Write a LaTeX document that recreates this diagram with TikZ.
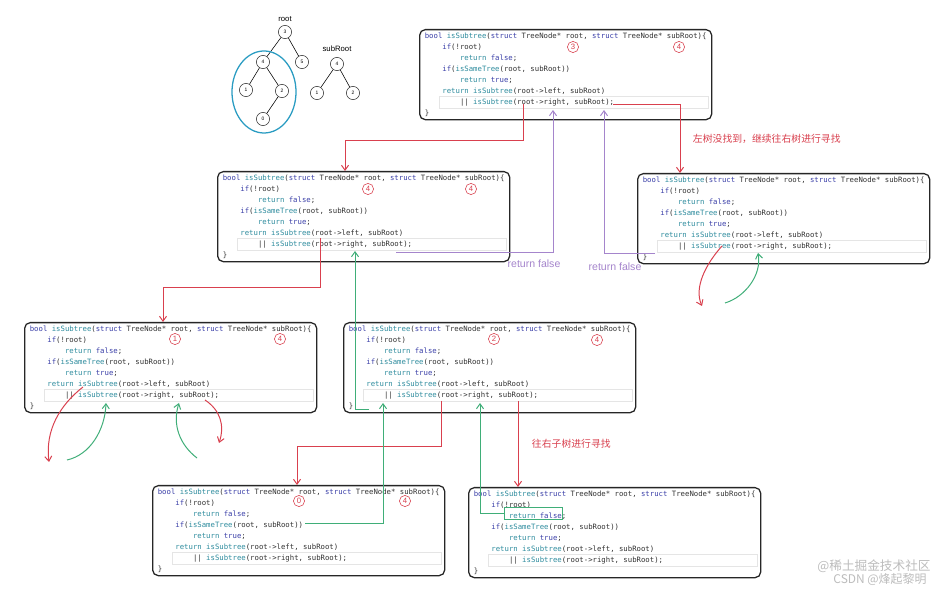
\documentclass[tikz,border=0pt]{standalone}
\usepackage{fontspec}
\setmainfont{Liberation Sans}
\newfontfamily\codefont{DejaVu Sans Mono}
\newfontfamily\cjkfont{Noto Sans CJK SC}
\usetikzlibrary{arrows.meta,calc,shapes.geometric}
\definecolor{callred}{HTML}{D9404E}
\definecolor{backpurple}{HTML}{A585CC}
\definecolor{truegreen}{HTML}{3FAE78}
\definecolor{treeteal}{HTML}{2A9CC2}
\definecolor{kwblue}{HTML}{3A3FA8}
\definecolor{rtteal}{HTML}{2E8C9E}
\definecolor{codegray}{HTML}{333333}
\definecolor{markgray}{HTML}{BDBDBD}

\newcommand{\kw}[1]{\textcolor{kwblue}{#1}}
\newcommand{\rt}[1]{\textcolor{rtteal}{#1}}
\newcommand{\subtreecode}{%
\kw{bool} \rt{isSubtree}(\kw{struct} TreeNode* root, \kw{struct} TreeNode* subRoot)\{\\
~~~~\kw{if}(!root)\\
~~~~~~~~\rt{return} \kw{false};\\
~~~~\kw{if}(\rt{isSameTree}(root, subRoot))\\
~~~~~~~~\rt{return} \kw{true};\\
~~~~\rt{return} \rt{isSubtree}(root->left, subRoot)\\
~~~~~~~~|| \rt{isSubtree}(root->right, subRoot);\\
\}}

\begin{document}
\begin{tikzpicture}[
		x=0.025cm, y=-0.025cm,
		>={Straight Barb[length=3.5pt,width=5pt]},
		codebox/.style={draw=black!85, fill=white, rounded corners=4pt,
				line width=0.9pt, minimum width=7.3cm, minimum height=2.25cm,
				anchor=north west, align=left, inner sep=2pt, text=codegray,
				font=\codefont\fontsize{5.2}{7.8}\selectfont},
		numcirc/.style={circle, draw=callred, text=callred, inner sep=0pt,
				minimum size=0.28cm, line width=0.4pt, font=\fontsize{5.5}{5.5}\selectfont},
		treenode/.style={circle, draw=black!80, inner sep=0pt, minimum size=0.33cm,
				line width=0.4pt, font=\fontsize{3.5}{4}\selectfont},
		callline/.style={->, draw=callred, line width=0.7pt},
		backline/.style={->, draw=backpurple, line width=0.7pt},
		trueline/.style={->, draw=truegreen, line width=0.7pt},
		curline/.style={draw=black!10, line width=0.4pt},
		note/.style={anchor=west, text=callred, font=\cjkfont\fontsize{7}{8}\selectfont},
		backnote/.style={text=backpurple, font=\fontsize{7.5}{8}\selectfont},
	]
	\useasboundingbox (0,0) rectangle (948,589);
	\fill[white] (0,0) rectangle (948,589);

	% the two trees
	\node[font=\fontsize{5.5}{6}\selectfont] (rootlbl) at (285,19) {root};
	\node[treenode] (t3) at (285,32) {3};
	\node[treenode] (t4) at (263,62) {4};
	\node[treenode] (t5) at (302,62) {5};
	\node[treenode] (t1) at (246,90) {1};
	\node[treenode] (t2) at (282,91) {2};
	\node[treenode] (t0) at (263,119) {0};
	\draw[line width=0.4pt] (t3) -- (t4) (t3) -- (t5) (t4) -- (t1) (t4) -- (t2) (t2) -- (t0);
	\node[ellipse, draw=treeteal, line width=0.9pt, minimum width=1.6cm,
		minimum height=2.05cm] (subcirc) at (264,92) {};

	\node[font=\fontsize{5.5}{6}\selectfont] (subrootlbl) at (337,49) {subRoot};
	\node[treenode] (s4) at (337,64) {4};
	\node[treenode] (s1) at (317,93) {1};
	\node[treenode] (s2) at (353,93) {2};
	\draw[line width=0.4pt] (s4) -- (s1) (s4) -- (s2);

	% one box per call
	\node[codebox] (topb) at (419,29) {\subtreecode};
	\node[codebox] (midl) at (217,171) {\subtreecode};
	\node[codebox] (rightb) at (637,173) {\subtreecode};
	\node[codebox] (leftb) at (24,322) {\subtreecode};
	\node[codebox] (cent) at (343,322) {\subtreecode};
	\node[codebox] (botl) at (152,485) {\subtreecode};
	\node[codebox] (botr) at (468,487) {\subtreecode};

	\foreach \b in {topb,midl,rightb,leftb,cent,botl,botr}
	\draw[curline] ($(\b.south west)+(20,-12)$) rectangle ($(\b.south east)+(-4,-24)$);

	% values of root and subRoot
	\node[numcirc] (topnr) at (573,47) {3};
	\node[numcirc] (topns) at (679,47) {4};
	\node[numcirc] (midnr) at (368,189) {4};
	\node[numcirc] (midns) at (471,189) {4};
	\node[numcirc] (leftnr) at (175,339) {1};
	\node[numcirc] (leftns) at (280,339) {4};
	\node[numcirc] (centnr) at (494,339) {2};
	\node[numcirc] (centns) at (597,340) {4};
	\node[numcirc] (botnr) at (299,501) {0};
	\node[numcirc] (botns) at (405,501) {4};

	% calls
	\coordinate (topleft) at (523,104);
	\coordinate (topleftbend) at (345,140);
	\draw[callline] (topleft) |- (topleftbend) -- (topleftbend |- midl.north);

	\coordinate (topright) at (613,104);
	\coordinate (toprightbend) at (680,104);
	\draw[callline] (topright) -- (toprightbend) -- (toprightbend |- rightb.north);
	\node[note] (rightnote) at (688,139) {左树没找到，继续往右树进行寻找};

	\coordinate (midleft) at (320,238);
	\coordinate (midleftbend) at (163,287);
	\draw[callline] (midleft) |- (midleftbend) -- (midleftbend |- leftb.north);

	\coordinate (centleft) at (441,401);
	\coordinate (centleftbend) at (297,446);
	\draw[callline] (centleft) |- (centleftbend) -- (centleftbend |- botl.north);

	\coordinate (centright) at (518,401);
	\draw[callline] (centright) -- (centright |- botr.north);
	\node[note] (centnote) at (527,444) {往右子树进行寻找};

	% returns
	\coordinate (midret) at (396,252);
	\coordinate (topretl) at (553,110);
	\draw[backline] (midret) -| (topretl);
	\node[backnote] (midretnote) at (534,264) {return false};

	\coordinate (rightret) at (655,253);
	\coordinate (topretr) at (604,110);
	\draw[backline] (rightret) -| (topretr);
	\node[backnote] (rightretnote) at (615,267) {return false};

	\coordinate (sametrue) at (305,523);
	\coordinate (centin) at (383,403);
	\draw[trueline] (sametrue) -| (centin);

	\coordinate (centret) at (369,409);
	\coordinate (midin) at (355,251);
	\draw[trueline] (centret) -| (midin);

	\node[draw=truegreen, line width=0.7pt, inner sep=0pt, minimum width=1.45cm,
		minimum height=0.3cm] (hitfalse) at (533,513) {};
	\coordinate (botrin) at (480,403);
	\draw[trueline] (hitfalse.west) -| (botrin);

	% hand drawn arrows
	\coordinate (rdown) at (722,246);
	\coordinate (rdownend) at (702,306);
	\draw[callline] (rdown) .. controls (705,265) and (694,288) .. (rdownend);
	\coordinate (rup) at (725,303);
	\coordinate (rupend) at (758,253);
	\draw[trueline] (rup) .. controls (745,297) and (762,275) .. (rupend);

	\coordinate (ldown) at (83,387);
	\coordinate (ldownend) at (49,462);
	\draw[callline] (ldown) .. controls (60,405) and (45,430) .. (ldownend);
	\coordinate (lup) at (67,460);
	\coordinate (lupend) at (106,403);
	\draw[trueline] (lup) .. controls (90,455) and (105,430) .. (lupend);
	\coordinate (lup2) at (197,458);
	\coordinate (lup2end) at (179,403);
	\draw[trueline] (lup2) .. controls (180,445) and (172,425) .. (lup2end);
	\coordinate (ldown2) at (205,400);
	\coordinate (ldown2end) at (219,443);
	\draw[callline] (ldown2) .. controls (220,410) and (225,425) .. (ldown2end);

	% watermark
	\node[text=markgray, font=\cjkfont\fontsize{9}{9}\selectfont] (markone) at (874,566) {@稀土掘金技术社区};
	\node[text=markgray, font=\cjkfont\fontsize{8.5}{8.5}\selectfont] (marktwo) at (880,580) {CSDN @烽起黎明};
\end{tikzpicture}
\end{document}
